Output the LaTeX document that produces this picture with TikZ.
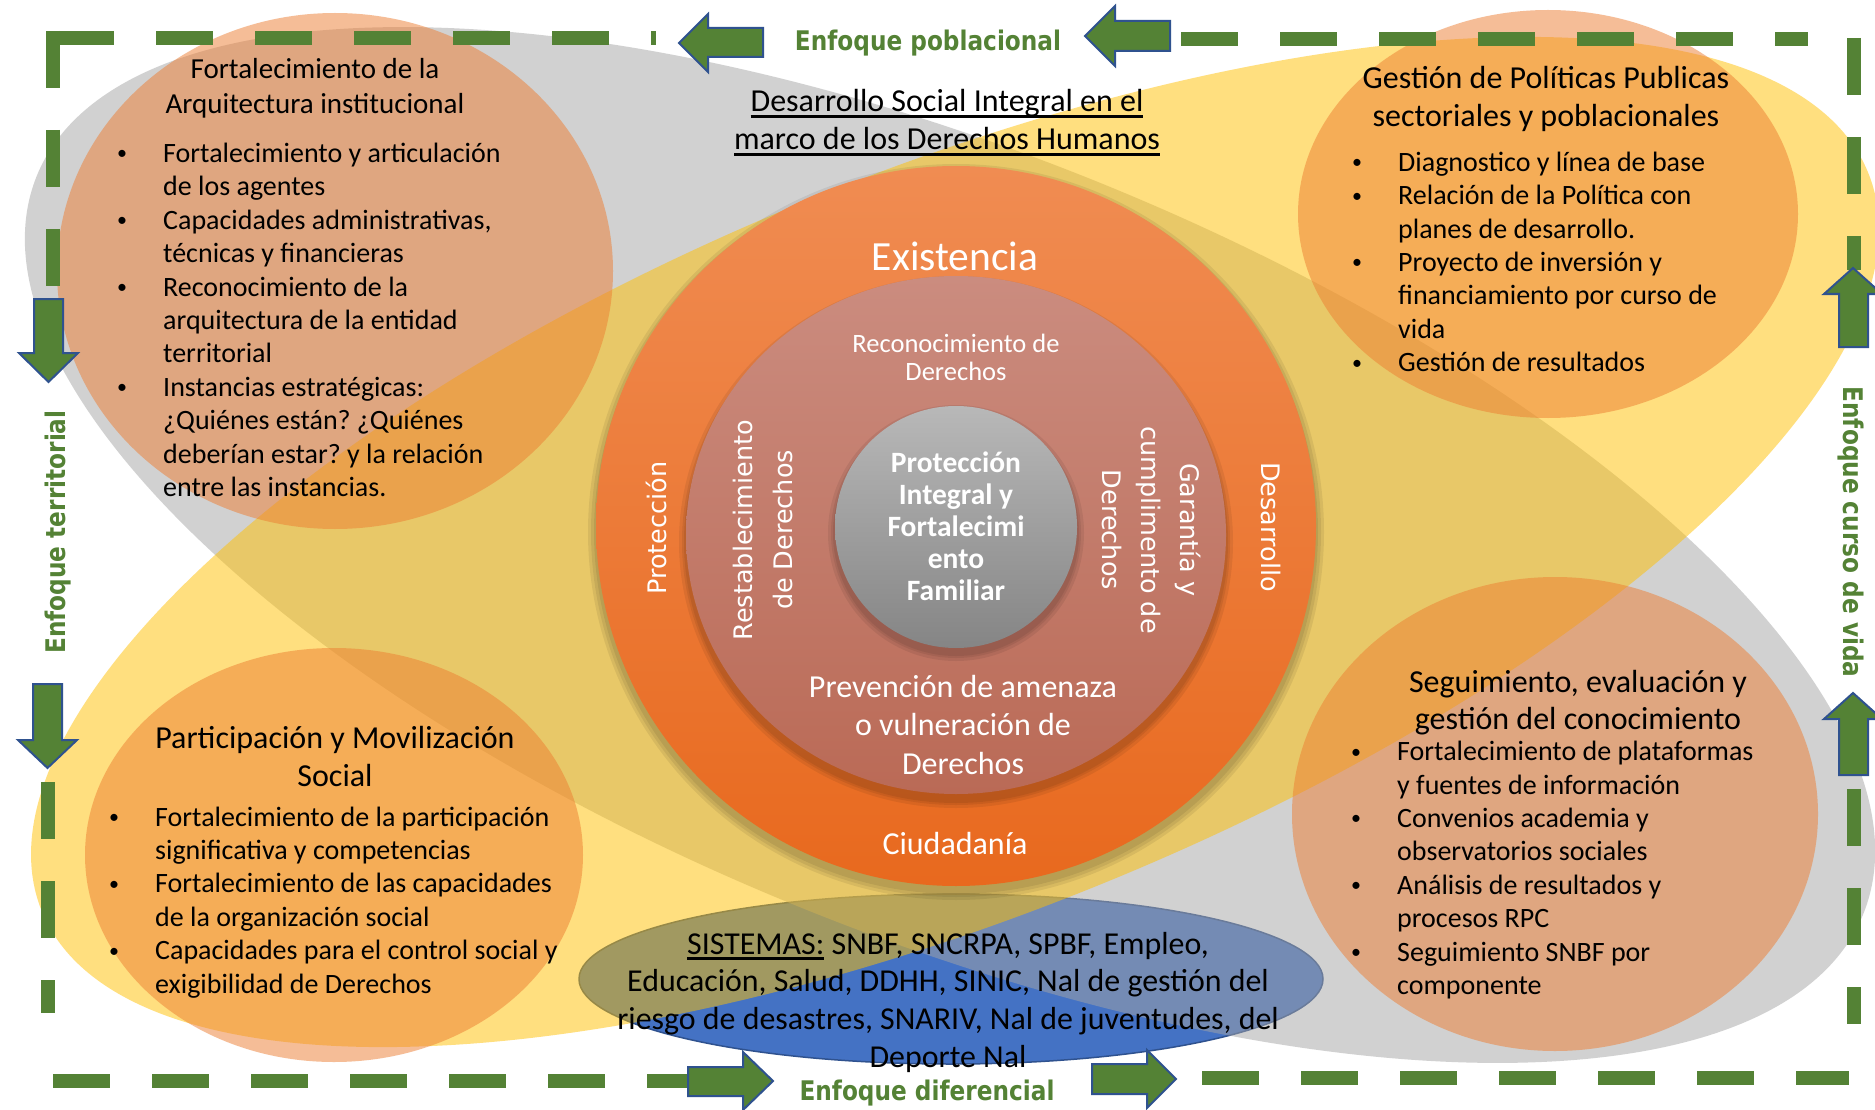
\documentclass[tikz,border=0pt]{standalone}
\usepackage{fontspec}
\setmainfont{Carlito}
\newfontfamily\verdfont{DejaVu Sans}
\newfontfamily\tahfont[FakeStretch=0.86]{DejaVu Sans}
\definecolor{grn}{HTML}{548235}
\definecolor{arrblue}{HTML}{2F528F}
\definecolor{gry}{HTML}{A5A5A5}
\definecolor{gold}{HTML}{FFC000}
\definecolor{orng}{HTML}{ED7D31}
\definecolor{blu}{HTML}{4472C4}
\definecolor{orTop}{HTML}{F08C52}
\definecolor{orBot}{HTML}{E8691E}
\definecolor{roTop}{HTML}{CB8C7F}
\definecolor{roBot}{HTML}{BA6A56}
\definecolor{gyTop}{HTML}{B8B8B8}
\definecolor{gyBot}{HTML}{858585}
\frenchspacing
\newsavebox\ulbox
\newcommand\myul[1]{\sbox\ulbox{#1}\rlap{\rule[-6pt]{\wd\ulbox}{2.8pt}}\usebox\ulbox}
\newcommand\mybul{\llap{\makebox[0pt][c]{\fontsize{20}{20}\selectfont\raisebox{2.6pt}{•}}\hspace{41pt}}}
\tikzset{
  frameline/.style={draw=grn, line width=14pt, dash pattern=on 57pt off 42pt},
  blockarrow/.style={fill=grn, draw=arrblue, line width=2pt, line join=miter},
  bodylist/.style={anchor=base west, inner sep=0pt, font=\fontsize{28}{33.4}\selectfont},
  boxtitle/.style={anchor=base, inner sep=0pt},
  enfoque/.style={anchor=base, inner sep=0pt, text=grn, font=\tahfont\bfseries\fontsize{27}{32}\selectfont},
  wlabel/.style={anchor=base, inner sep=0pt, text=white},
  rotlabel/.style={anchor=base, inner sep=0pt, text=white},
  peach/.style={fill=orng, fill opacity=0.5},
  softshadow/.style={fill=black, fill opacity=0.07},
}
\begin{document}
\begin{tikzpicture}[x=1pt,y=-1pt]
\useasboundingbox (0,0) rectangle (1875,1110);
\clip (0,0) rectangle (1875,1110);
\fill[white] (0,0) rectangle (1875,1110);

% blue ellipse (below the translucent shapes)
\filldraw[fill=blu, draw=arrblue, line width=1.5pt] (951,979) ellipse [x radius=372pt, y radius=85pt];

% large crossing ellipses
\fill[gry, fill opacity=0.5, rotate around={-22:(950,545)}] (950,545) ellipse [x radius=985pt, y radius=392pt];
\fill[gold, fill opacity=0.5, rotate around={22:(955,542)}] (955,542) ellipse [x radius=985pt, y radius=372pt];

% peach ellipses
\fill[peach] (335,271) ellipse [x radius=278pt, y radius=258pt];
\fill[peach] (1548,214) ellipse [x radius=250pt, y radius=204pt];
\fill[peach] (334,855) ellipse [x radius=249pt, y radius=207pt];
\fill[peach] (1555,814) ellipse [x radius=263pt, y radius=237pt];

% central circles
\foreach \d in {2,5,8}{\fill[softshadow] (956,532) circle [radius={360pt+\d pt}];}
\shade[top color=orTop, bottom color=orBot] (956,526) circle [radius=360pt];
\foreach \d in {2,4,7}{\fill[softshadow] (956,542) ellipse [x radius={270pt+\d pt}, y radius={259pt+\d pt}];}
\shade[top color=roTop, bottom color=roBot] (956,535) ellipse [x radius=270pt, y radius=259pt];
\foreach \d in {2,4,7}{\fill[softshadow] (956,533) circle [radius={121pt+\d pt}];}
\shade[top color=gyTop, bottom color=gyBot] (956,527) circle [radius=121pt];

% dashed frame
\draw[frameline] (57,38) -- (656,38);
\draw[frameline] (1181,39) -- (1808,39);
\draw[frameline] (1854,38) -- (1854,270);
\draw[frameline] (1854,789) -- (1854,1024);
\draw[frameline] (1202,1078) -- (1849,1078);
\draw[frameline] (53,1081) -- (688,1081);
\draw[frameline] (53,31) -- (53,299);
\draw[frameline] (48,782) -- (48,1013);

% block arrows
\draw[blockarrow] (679,43) -- (708,14) -- (708,28) -- (763,28) -- (763,57) -- (708,57) -- (708,72) -- cycle;
\draw[blockarrow] (1085,36) -- (1115,6) -- (1115,21) -- (1170,21) -- (1170,51) -- (1115,51) -- (1115,66) -- cycle;
\draw[blockarrow] (773,1081) -- (743,1052) -- (743,1067) -- (688,1067) -- (688,1096) -- (743,1096) -- (743,1110) -- cycle;
\draw[blockarrow] (1176,1079) -- (1147,1050) -- (1147,1064) -- (1092,1064) -- (1092,1094) -- (1147,1094) -- (1147,1108) -- cycle;
\draw[blockarrow] (48.5,382) -- (19,353) -- (34,353) -- (34,299) -- (63,299) -- (63,353) -- (78,353) -- cycle;
\draw[blockarrow] (47.5,768) -- (18,740) -- (33,740) -- (33,684) -- (62,684) -- (62,740) -- (77,740) -- cycle;
\draw[blockarrow] (1853,268) -- (1824,294) -- (1839,294) -- (1839,347) -- (1868,347) -- (1868,294) -- (1882,294) -- cycle;
\draw[blockarrow] (1853,693) -- (1824,719) -- (1839,719) -- (1839,775) -- (1868,775) -- (1868,719) -- (1882,719) -- cycle;

% Enfoque labels
\node[enfoque] (epob) at (928,51) {Enfoque poblacional};
\node[enfoque] (edif) at (927,1100) {Enfoque diferencial};
\node[enfoque, rotate=90] (eter) at (65,532) {Enfoque territorial};
\node[enfoque, rotate=-90] (ecur) at (1843,532) {Enfoque curso de vida};

% heading
\node[boxtitle, font=\fontsize{32}{37.5}\selectfont] (head1) at (947,112) {\myul{Desarrollo Social Integral en el}};
\node[boxtitle, font=\fontsize{32}{37.5}\selectfont] (head2) at (947,150) {\myul{marco de los Derechos Humanos}};

% box 1
\node[boxtitle, font=\fontsize{29}{35}\selectfont] (t1) at (315,79)
  {\begin{tabular}[t]{@{}c@{}}Fortalecimiento de la\\Arquitectura institucional\end{tabular}};
\node[bodylist] (l1) at (163,162.5)
  {\begin{tabular}[t]{@{}l@{}}\mybul Fortalecimiento y articulación\\de los agentes\\\mybul Capacidades administrativas,\\técnicas y financieras\\\mybul Reconocimiento de la\\arquitectura de la entidad\\territorial\\\mybul Instancias estratégicas:\\¿Quiénes están? ¿Quiénes\\deberían estar? y la relación\\entre las instancias.\end{tabular}};

% box 2
\node[boxtitle, font=\fontsize{32}{38}\selectfont] (t2) at (1546,89)
  {\begin{tabular}[t]{@{}c@{}}Gestión de Políticas Publicas\\sectoriales y poblacionales\end{tabular}};
\node[bodylist] (l2) at (1398,171.4)
  {\begin{tabular}[t]{@{}l@{}}\mybul Diagnostico y línea de base\\\mybul Relación de la Política con\\planes de desarrollo.\\\mybul Proyecto de inversión y\\financiamiento por curso de\\vida\\\mybul Gestión de resultados\end{tabular}};

% box 3
\node[boxtitle, font=\fontsize{32}{38}\selectfont] (t3) at (335,748)
  {\begin{tabular}[t]{@{}c@{}}Participación y Movilización\\Social\end{tabular}};
\node[bodylist] (l3) at (155,826)
  {\begin{tabular}[t]{@{}l@{}}\mybul Fortalecimiento de la participación\\significativa y competencias\\\mybul Fortalecimiento de las capacidades\\de la organización social\\\mybul Capacidades para el control social y\\exigibilidad de Derechos\end{tabular}};

% box 4
\node[boxtitle, font=\fontsize{32}{37}\selectfont] (t4) at (1578,692)
  {\begin{tabular}[t]{@{}c@{}}Seguimiento, evaluación y\\gestión del conocimiento\end{tabular}};
\node[bodylist] (l4) at (1397,760.7)
  {\begin{tabular}[t]{@{}l@{}}\mybul Fortalecimiento de plataformas\\y fuentes de información\\\mybul Convenios academia y\\observatorios sociales\\\mybul Análisis de resultados y\\procesos RPC\\\mybul Seguimiento SNBF por\\componente\end{tabular}};

% central labels
\node[wlabel, font=\fontsize{41.5}{48}\selectfont] (exist) at (955,270) {Existencia};
\node[wlabel, font=\fontsize{26.5}{28.5}\selectfont] (recon) at (956,352)
  {\begin{tabular}[t]{@{}c@{}}Reconocimiento de\\Derechos\end{tabular}};
\node[rotlabel, rotate=90, font=\verdfont\fontsize{25.5}{40}\selectfont] (prot) at (666,528) {Protección};
\node[rotlabel, rotate=90, font=\verdfont\fontsize{25.5}{40}\selectfont] (restab) at (752,530)
  {\begin{tabular}[t]{@{}c@{}}Restablecimiento\\de Derechos\end{tabular}};
\node[rotlabel, rotate=-90, font=\verdfont\fontsize{25.5}{39}\selectfont] (garan) at (1180,530)
  {\begin{tabular}[t]{@{}c@{}}Garantía y\\cumplimento de\\Derechos\end{tabular}};
\node[rotlabel, rotate=-90, font=\verdfont\fontsize{25.5}{39}\selectfont] (desar) at (1261,527) {Desarrollo};
\node[wlabel, font=\bfseries\fontsize{29.5}{32}\selectfont] (core) at (956,472)
  {\begin{tabular}[t]{@{}c@{}}Protección\\Integral y\\Fortalecimi\\ento\\Familiar\end{tabular}};
\node[wlabel, font=\fontsize{32}{38.5}\selectfont] (prev) at (963,697)
  {\begin{tabular}[t]{@{}c@{}}Prevención de amenaza\\o vulneración de\\Derechos\end{tabular}};
\node[wlabel, font=\fontsize{32}{38}\selectfont] (ciud) at (955,854) {Ciudadanía};

% sistemas
\node[boxtitle, font=\fontsize{31.9}{37.7}\selectfont] (sis) at (948,954)
  {\begin{tabular}[t]{@{}c@{}}\myul{SISTEMAS:} SNBF, SNCRPA, SPBF, Empleo,\\Educación, Salud, DDHH, SINIC, Nal de gestión del\\riesgo de desastres, SNARIV, Nal de juventudes, del\\Deporte Nal\end{tabular}};
\end{tikzpicture}
\end{document}
